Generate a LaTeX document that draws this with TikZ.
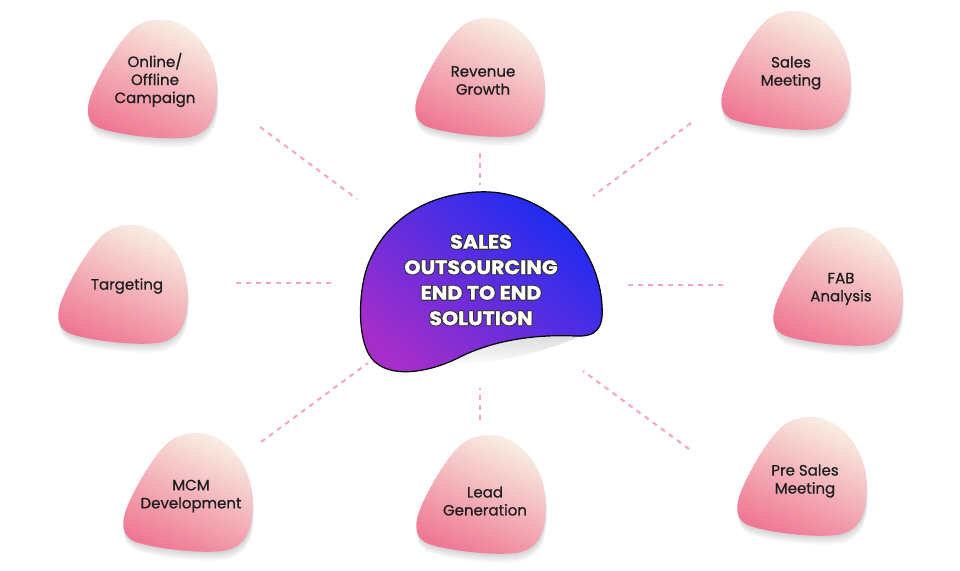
\documentclass[tikz,border=0pt]{standalone}
\usepackage{fontspec}
\setmainfont{Poppins}
\newfontfamily\popmed[FakeBold=0.8]{Poppins}
\newfontfamily\popxb[FakeBold=1.2,FakeStretch=1.06]{Poppins}
\usetikzlibrary{calc}
\definecolor{cream}{HTML}{F8EEE3}
\definecolor{midpink}{HTML}{F4B3C0}
\definecolor{deeppink}{HTML}{EF7792}
\definecolor{dashpink}{HTML}{F7A6B9}
\definecolor{cblue}{HTML}{1B2CF2}
\definecolor{cpurple}{HTML}{A52EC9}
\definecolor{txt}{HTML}{1E1E1E}
\newcommand\blobplot{(11,59) .. controls (35,59) and (64,30) .. (64.5,-8) .. controls (65,-35) and (60,-55) .. (35,-59) .. controls (10,-62) and (-35,-56) .. (-52,-50) .. controls (-66,-45) and (-67,-32) .. (-62,-18) .. controls (-55,2) and (-30,45) .. (-15,53) .. controls (-5,59) and (5,59) .. (11,59) -- cycle}
\newcommand\blobat[2]{%
  \foreach \k in {1,...,7}{\fill[black, opacity=0.025, shift={(#1+0.2*\k,-#2-1.3*\k)}] \blobplot;}
  \shade[blobfill, shift={(#1,-#2)}] \blobplot;}
\begin{document}
\begin{tikzpicture}[x=1pt,y=1pt,
  blobfill/.style={top color=cream, middle color=midpink, bottom color=deeppink, shading angle=-25},
  conn/.style={draw=dashpink, line width=2pt, dash pattern=on 5pt off 5pt},
  lbl/.style={font=\popmed\fontsize{15}{18}\selectfont, text=txt, align=center, inner sep=0pt},
  ctext/.style={font=\popxb\bfseries\fontsize{19.5}{25.5}\selectfont, align=center, inner sep=0pt}]
\useasboundingbox (0,0) rectangle (960,-570);
\fill[white] (0,0) rectangle (960,-570);
% connectors
\coordinate (l1a) at (260,-127); \coordinate (l1b) at (357,-199);
\coordinate (l2a) at (480,-153); \coordinate (l2b) at (480,-185);
\coordinate (l3a) at (691,-123); \coordinate (l3b) at (593,-196);
\coordinate (l4a) at (236,-283); \coordinate (l4b) at (336,-283);
\coordinate (l5a) at (723,-285); \coordinate (l5b) at (623,-285);
\coordinate (l6a) at (261,-442); \coordinate (l6b) at (368,-363);
\coordinate (l7a) at (480,-420); \coordinate (l7b) at (480,-388);
\coordinate (l8a) at (689,-449); \coordinate (l8b) at (583,-371);
\foreach \i in {1,...,8}{\draw[conn] (l\i a) -- (l\i b);}
% small blobs
\blobat{152.5}{78.5}
\blobat{480}{77}
\blobat{786}{70}
\blobat{123}{284}
\blobat{838}{286}
\blobat{188}{492}
\blobat{481}{494}
\blobat{802}{476}
\node[lbl] (b1) at (155,-80) {Online/\\Offline\\Campaign};
\node[lbl] (b2) at (483,-80.5) {Revenue\\Growth};
\node[lbl] (b3) at (791,-73) {Sales\\Meeting};
\node[lbl] (b4) at (127,-286) {Targeting};
\node[lbl] (b5) at (841,-289) {FAB\\Analysis};
\node[lbl] (b6) at (191,-496) {MCM\\Development};
\node[lbl] (b7) at (485,-501) {Lead\\Generation};
\node[lbl] (b8) at (805,-481) {Pre Sales\\Meeting};
% central blob curl shadow
\shade[top color=gray!60, bottom color=white, opacity=0.45]
  (578,-337) .. controls (530,-335) and (490,-342) .. (460,-357)
  -- (452,-363) .. controls (490,-366) and (545,-352) .. (578,-337) -- cycle;
% central blob
\shade[top color=cblue, bottom color=cpurple, shading angle=-40]
  (477,-192) .. controls (540,-188) and (598,-240) .. (602,-305)
  .. controls (604,-330) and (595,-337) .. (575,-336)
  .. controls (530,-334) and (490,-342) .. (460,-357)
  .. controls (435,-370) and (395,-380) .. (375,-362)
  .. controls (355,-345) and (358,-285) .. (370,-260)
  .. controls (385,-225) and (420,-195) .. (477,-192) -- cycle;
\draw[black, line width=1.2pt]
  (477,-192) .. controls (540,-188) and (598,-240) .. (602,-305)
  .. controls (604,-330) and (595,-337) .. (575,-336)
  .. controls (530,-334) and (490,-342) .. (460,-357)
  .. controls (435,-370) and (395,-380) .. (375,-362)
  .. controls (355,-345) and (358,-285) .. (370,-260)
  .. controls (385,-225) and (420,-195) .. (477,-192) -- cycle;
\foreach \a in {0,45,...,315}{
  \node[ctext, text=black!80] (co\a) at ($(481,-280)+(\a:0.9)$) {SALES\\OUTSOURCING\\END TO END\\SOLUTION};}
\node[ctext, text=white] (c) at (481,-280) {SALES\\OUTSOURCING\\END TO END\\SOLUTION};
\end{tikzpicture}
\end{document}
